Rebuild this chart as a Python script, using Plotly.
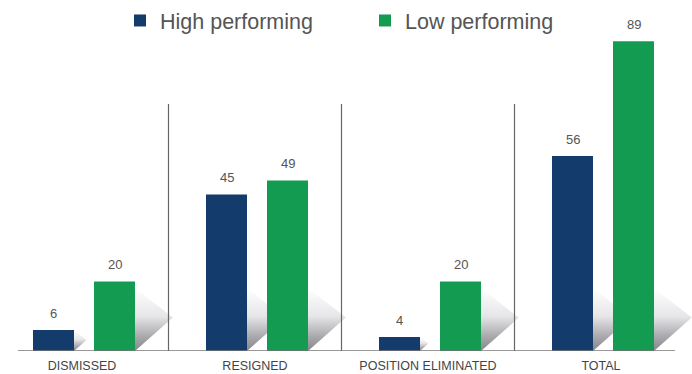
import plotly.graph_objects as go

categories = ["DISMISSED", "RESIGNED", "POSITION ELIMINATED", "TOTAL"]
high_values = [6, 45, 4, 56]
low_values = [20, 49, 20, 89]
series_names = ["High performing", "Low performing"]
series_colors = ["#133c6c", "#139c51"]

# layout helpers (pixel based)
PX_X = 173.0          # px per category unit
PX_Y = 3.48           # px per value unit
X_LEFT = -82 / PX_X
X_RIGHT = (692 - 82) / PX_X
Y_TOP = 351 / PX_Y
BAR_W = 41 / PX_X
OFFSETS = [-49 / PX_X, 12 / PX_X]
SHADOW_MAX = 63 / PX_Y

xs = list(range(len(categories)))
fig = go.Figure()

# shadows (drawn on base axes, under the bars)
for s, vals in enumerate([high_values, low_values]):
    for i, v in enumerate(vals):
        xr = xs[i] + OFFSETS[s] + BAR_W
        h = min(v, SHADOW_MAX)
        dx = 0.6 * h * PX_Y / PX_X
        dy = 0.53 * h
        fig.add_trace(go.Scatter(
            x=[xr, xr + dx, xr, xr], y=[h, dy, 0, h],
            mode="lines", line=dict(width=0), fill="toself",
            fillgradient=dict(type="vertical",
                              colorscale=[[0, "#86868a"], [0.25, "#adadb1"],
                                          [0.55, "#e6e6e8"], [1, "#ffffff"]]),
            hoverinfo="skip", showlegend=False, xaxis="x", yaxis="y"))

# bars on overlay axes
for s, vals in enumerate([high_values, low_values]):
    fig.add_trace(go.Bar(
        x=xs, y=vals, name=series_names[s], marker=dict(color=series_colors[s], line=dict(width=0)),
        width=BAR_W, offset=OFFSETS[s], xaxis="x2", yaxis="y2", hoverinfo="skip"))
    for i, v in enumerate(vals):
        fig.add_annotation(x=xs[i] + OFFSETS[s] + BAR_W / 2, y=v, xref="x2", yref="y2",
                           text=str(v), showarrow=False, yanchor="middle", yshift=17,
                           font=dict(size=13, color="#555555"))

# separators and baseline
for i in range(len(categories) - 1):
    fig.add_shape(type="line", x0=i + 0.5, x1=i + 0.5, y0=0, y1=247 / PX_Y,
                  xref="x", yref="y", line=dict(color="#666666", width=1.2))
fig.add_shape(type="line", x0=(18 - 82) / PX_X, x1=(675 - 82) / PX_X, y0=0, y1=0,
              xref="x", yref="y", line=dict(color="#777777", width=1.6))

fig.update_layout(
    width=692, height=374, margin=dict(l=0, r=0, t=0, b=23),
    paper_bgcolor="white", plot_bgcolor="white",
    font=dict(family="Liberation Sans, Arial, sans-serif", color="#555555"),
    barmode="overlay",
    xaxis=dict(range=[X_LEFT, X_RIGHT], tickvals=xs, ticktext=categories, ticks="",
               showgrid=False, zeroline=False, showline=False, ticklabelstandoff=5,
               tickfont=dict(size=12.5, color="#444444")),
    yaxis=dict(range=[0, Y_TOP], visible=False, showgrid=False, zeroline=False),
    xaxis2=dict(range=[X_LEFT, X_RIGHT], overlaying="x", visible=False),
    yaxis2=dict(range=[0, Y_TOP], overlaying="y", visible=False),
    legend=dict(orientation="h", x=120 / 692, y=1, xanchor="left", yanchor="top",
                font=dict(size=21.5, color="#555555"), bgcolor="rgba(0,0,0,0)",
                itemwidth=30, entrywidth=200, traceorder="normal"),
    showlegend=True,
)

fig.write_html("out.html")
